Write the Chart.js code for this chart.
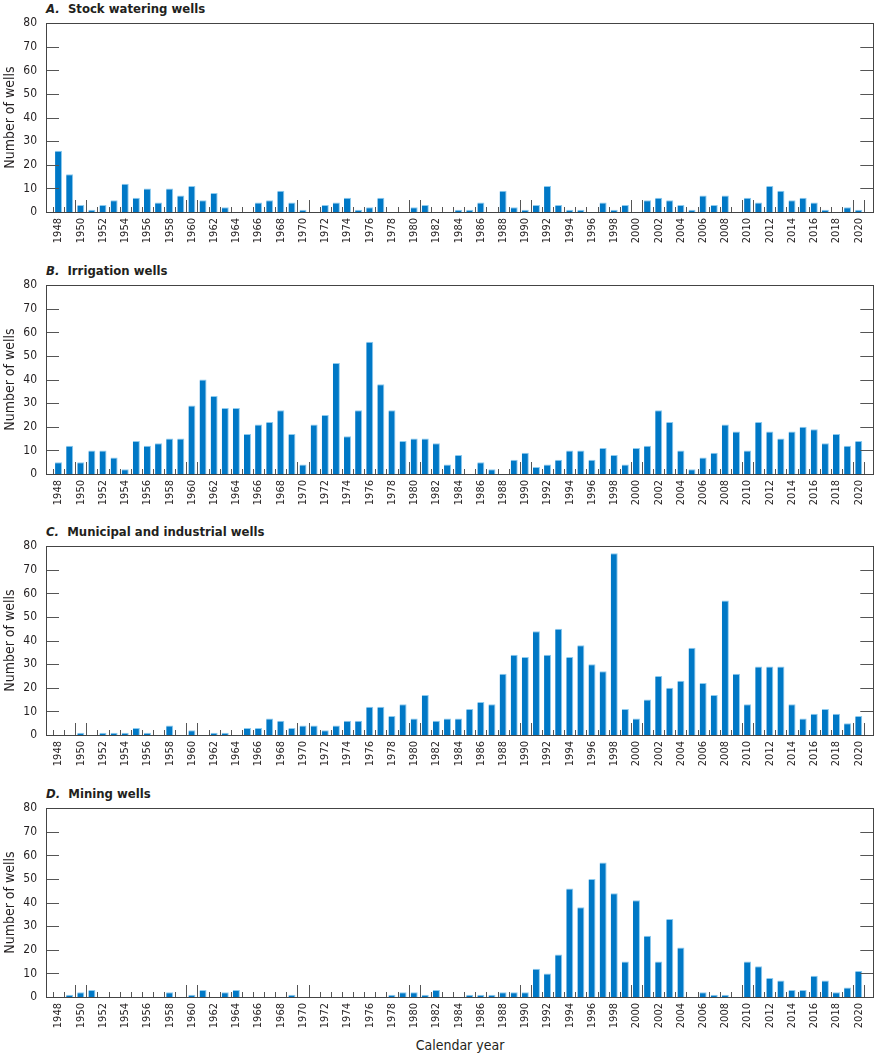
<!DOCTYPE html>
<html>
<head>
<meta charset="utf-8">
<script src="https://cdn.jsdelivr.net/npm/chart.js@4.4.1/dist/chart.umd.min.js"></script>
<style>
  body { margin: 0; background: #fff; width: 878px; height: 1055px; position: relative; overflow: hidden; }
  canvas { position: absolute; left: 0; }
  .ttl { position: absolute; left: 46px; font: bold 13px 'Liberation Sans Narrow', 'DejaVu Sans Condensed', sans-serif; line-height: 13px; color: #231f20; white-space: pre; }
  .ttl i { font-style: italic; }
  #xlab { position: absolute; left: 0; width: 920px; text-align: center; top: 1037px; font: 14px 'Liberation Sans Narrow', 'DejaVu Sans Condensed', sans-serif; color: #231f20; }
</style>
</head>
<body>
<div class="ttl" style="top:2px"><i>A.</i>  Stock watering wells</div>
<div class="ttl" style="top:264px"><i>B.</i>  Irrigation wells</div>
<div class="ttl" style="top:525px"><i>C.</i>  Municipal and industrial wells</div>
<div class="ttl" style="top:787px"><i>D.</i>  Mining wells</div>
<canvas id="chartA" width="878" height="250" style="top:0px"></canvas>
<canvas id="chartB" width="878" height="250" style="top:262px"></canvas>
<canvas id="chartC" width="878" height="250" style="top:523px"></canvas>
<canvas id="chartD" width="878" height="250" style="top:785px"></canvas>
<div id="xlab">Calendar year</div>
<script>
// calendar years 1948-2020
const years = [];
for (let y = 1948; y <= 2020; y++) years.push(y);

const yTicks = [0, 10, 20, 30, 40, 50, 60, 70, 80];

const stockWells = [
  26, 16, 3, 1, 3, 5, 12, 6, 10, 4, 10, 7, 11, 5, 8, 2, 0, 0, 4, 5, 9, 4, 1, 0, 3, 4, 6, 1, 2, 6,
  0, 0, 2, 3, 0, 0, 1, 1, 4, 0, 9, 2, 1, 3, 11, 3, 1, 1, 0, 4, 1, 3, 0, 5, 6, 5, 3, 1, 7, 3,
  7, 0, 6, 4, 11, 9, 5, 6, 4, 1, 0, 2, 1
];
const irrigationWells = [
  5, 12, 5, 10, 10, 7, 2, 14, 12, 13, 15, 15, 29, 40, 33, 28, 28, 17, 21, 22, 27, 17, 4, 21, 25, 47, 16, 27, 56, 38,
  27, 14, 15, 15, 13, 4, 8, 0, 5, 2, 0, 6, 9, 3, 4, 6, 10, 10, 6, 11, 8, 4, 11, 12, 27, 22, 10, 2, 7, 9,
  21, 18, 10, 22, 18, 15, 18, 20, 19, 13, 17, 12, 14
];
const municipalWells = [
  0, 0, 1, 0, 1, 1, 1, 3, 1, 0, 4, 0, 2, 0, 1, 1, 0, 3, 3, 7, 6, 3, 4, 4, 2, 4, 6, 6, 12, 12,
  8, 13, 7, 17, 6, 7, 7, 11, 14, 13, 26, 34, 33, 44, 34, 45, 33, 38, 30, 27, 77, 11, 7, 15, 25, 20, 23, 37, 22, 17,
  57, 26, 13, 29, 29, 29, 13, 7, 9, 11, 9, 5, 8
];
const miningWells = [
  0, 1, 2, 3, 0, 0, 0, 0, 0, 0, 2, 0, 1, 3, 0, 2, 3, 0, 0, 0, 0, 1, 0, 0, 0, 0, 0, 0, 0, 0,
  1, 2, 2, 1, 3, 0, 0, 1, 1, 1, 2, 2, 2, 12, 10, 18, 46, 38, 50, 57, 44, 15, 41, 26, 15, 33, 21, 0, 2, 1,
  1, 0, 15, 13, 8, 7, 3, 3, 9, 7, 2, 4, 11
];

const FONT = "'Liberation Sans Narrow', 'DejaVu Sans Condensed', sans-serif";

// inward tick marks + frame around the plot
const framePlugin = {
  id: 'frame',
  afterDatasetsDraw(chart) {
    const { ctx, chartArea: a, scales: { x, y } } = chart;
    const L = a.left - 7, R = a.right + 9;
    ctx.save();
    ctx.strokeStyle = '#555';
    ctx.lineWidth = 1;
    ctx.beginPath();
    yTicks.forEach(v => {
      const py = Math.round(y.getPixelForValue(v)) + 0.5;
      ctx.moveTo(L, py); ctx.lineTo(L + 13, py);
      ctx.moveTo(R - 13, py); ctx.lineTo(R, py);
    });
    for (let i = 0; i <= years.length; i++) {
      const px = Math.round(x.getPixelForValue(i - 0.5)) + 0.5;
      const prev = years[i - 1], next = years[i];
      const long = (prev !== undefined && prev % 10 === 0) || (next !== undefined && next % 10 === 0);
      const len = long ? 12 : 5;
      ctx.moveTo(px, a.bottom); ctx.lineTo(px, a.bottom - len);
    }
    ctx.stroke();
    ctx.strokeStyle = '#444';
    ctx.strokeRect(Math.round(L) + 0.5, Math.round(a.top) + 0.5, Math.round(R - L), Math.round(a.bottom - a.top));
    ctx.restore();
  }
};

function makeChart(id, values) {
  const ctx = document.getElementById(id).getContext('2d');
  return new Chart(ctx, {
    type: 'bar',
    data: {
      labels: years,
      datasets: [{
        data: values,
        backgroundColor: '#0078c6',
        borderColor: '#8ccbef',
        borderWidth: { top: 1, right: 1, left: 0, bottom: 0 },
        borderSkipped: 'start',
        barPercentage: 0.63,
        categoryPercentage: 1
      }]
    },
    options: {
      responsive: false,
      animation: false,
      layout: { padding: { top: 20, left: 0, right: 10, bottom: 0 } },
      plugins: { legend: { display: false }, tooltip: { enabled: false } },
      scales: {
        x: {
          grid: { display: false, drawTicks: false },
          border: { display: false },
          afterFit(scale) { scale.height = 38; },
          ticks: {
            autoSkip: false,
            minRotation: 90,
            maxRotation: 90,
            padding: 6,
            color: '#231f20',
            font: { family: FONT, size: 11 },
            callback(val, idx) { return years[idx] % 2 === 0 ? String(years[idx]) : ''; }
          }
        },
        y: {
          min: 0,
          max: 80,
          grid: { display: false, drawTicks: false },
          border: { display: false },
          afterFit(scale) { scale.width = 53; },
          ticks: {
            stepSize: 10,
            padding: 16,
            color: '#231f20',
            font: { family: FONT, size: 12 }
          },
          title: {
            display: true,
            text: 'Number of wells',
            color: '#231f20',
            font: { family: FONT, size: 14 },
            padding: { top: 2, bottom: 0 }
          }
        }
      }
    },
    plugins: [framePlugin]
  });
}

window.onload = function () {
  makeChart('chartA', stockWells);
  makeChart('chartB', irrigationWells);
  makeChart('chartC', municipalWells);
  makeChart('chartD', miningWells);
};
</script>
</body>
</html>
